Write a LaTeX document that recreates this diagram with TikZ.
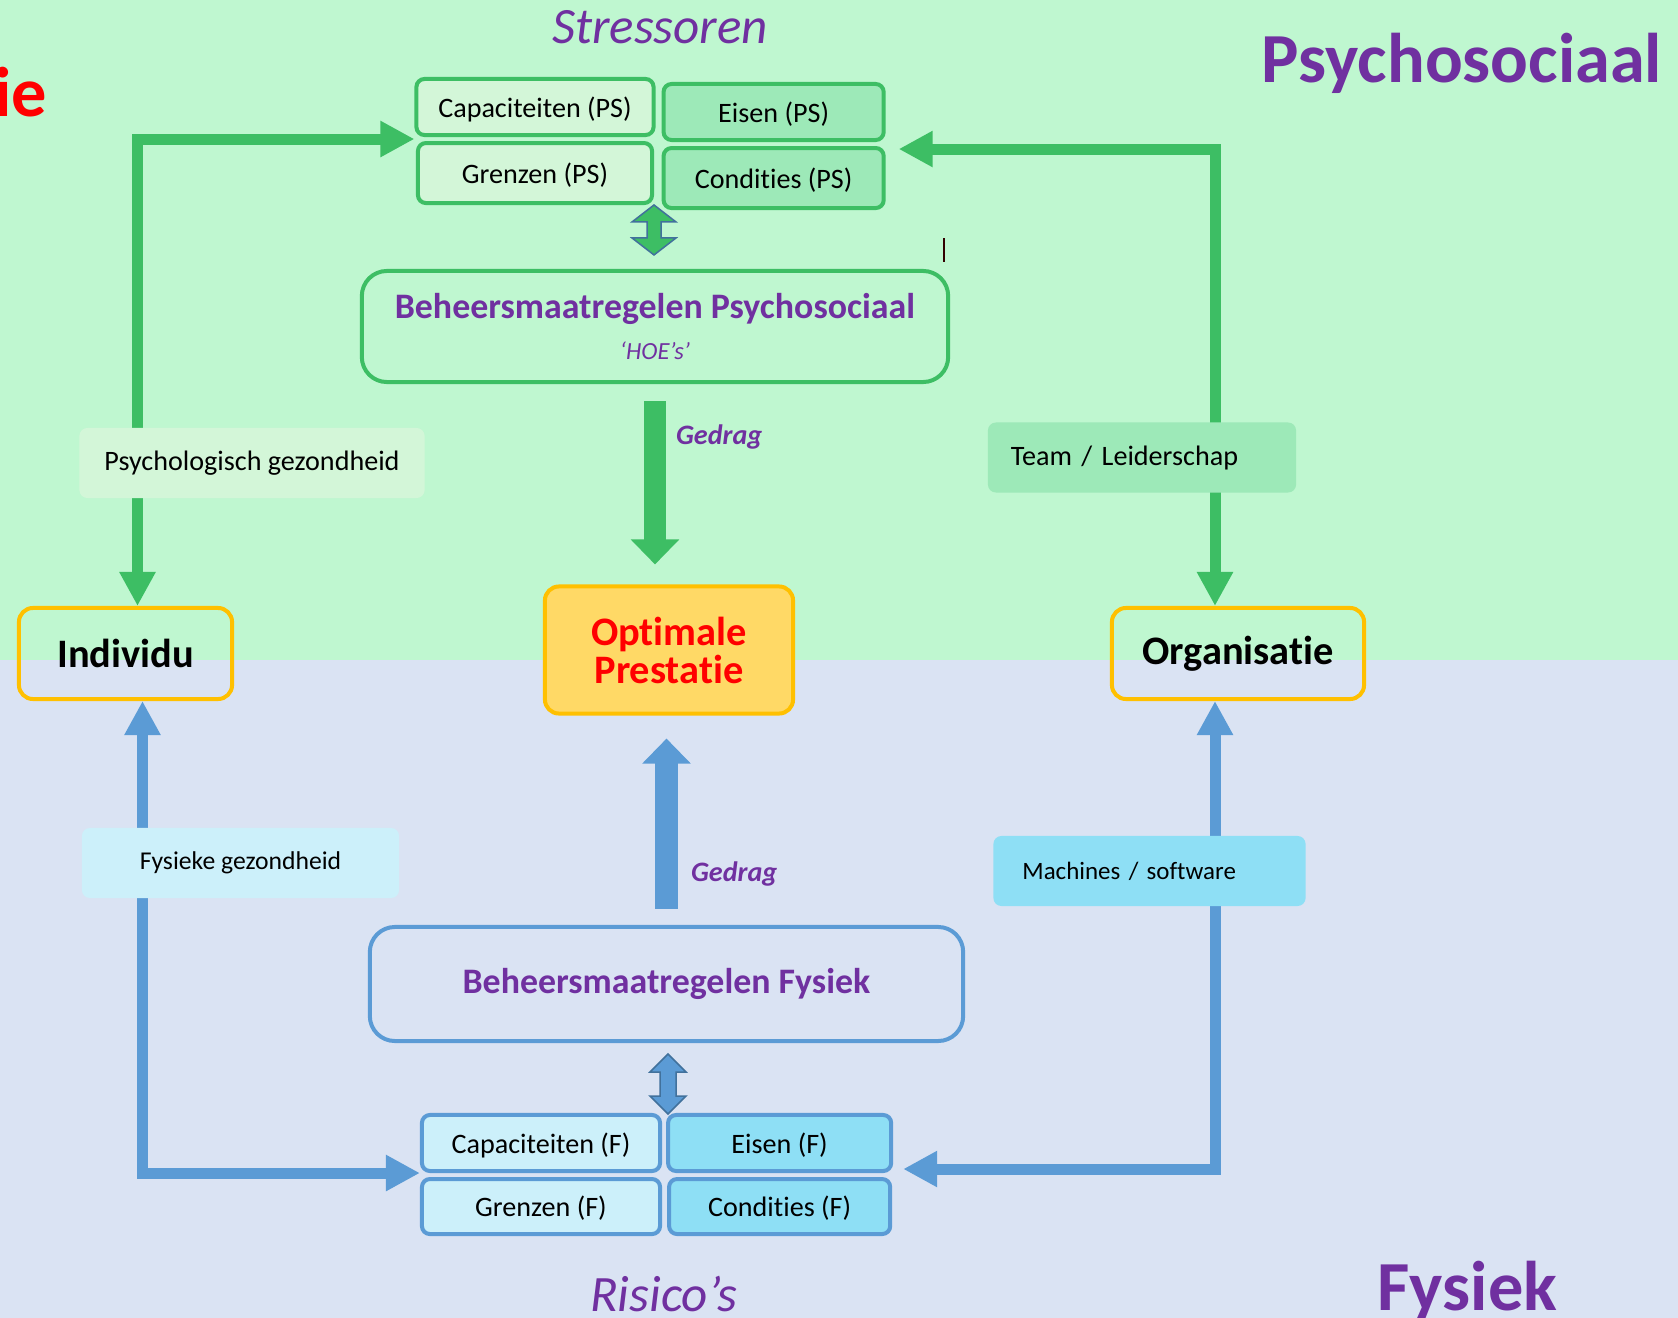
\documentclass[tikz,border=0pt]{standalone}
\usepackage{fontspec}
\setmainfont{Carlito}[Ligatures={TeX,NoCommon}]
\usetikzlibrary{positioning,calc,arrows.meta}

\definecolor{topbg}{HTML}{BFF7D0}
\definecolor{botbg}{HTML}{DAE3F3}
\definecolor{gline}{HTML}{3DBE64}
\definecolor{glight}{HTML}{D3F6D8}
\definecolor{gmid}{HTML}{9DE9B8}
\definecolor{bline}{HTML}{5B9BD5}
\definecolor{blight}{HTML}{CCF0FA}
\definecolor{bmid}{HTML}{8EDFF5}
\definecolor{bdark}{HTML}{41719C}
\definecolor{paars}{HTML}{7030A0}
\definecolor{oranje}{HTML}{FFC000}
\definecolor{geel}{HTML}{FFD966}

\begin{document}
\begin{tikzpicture}[x=0.01cm, y=-0.01cm,
    cell/.style = {draw, line width=0.04cm, rounded corners=0.08cm, inner sep=0, text height=0.27cm, text depth=0.07cm, font=\fontsize{8}{9.6}\selectfont},
    pscell/.style = {cell, draw=gline},
    fcell/.style = {cell, draw=bline},
    measure/.style = {draw, line width=0.04cm, rounded corners=0.25cm, text=paars, align=center, font=\bfseries\fontsize{10.2}{11.6}\selectfont},
    actor/.style = {draw=oranje, line width=0.04cm, rounded corners=0.14cm, minimum height=0.91cm, inner sep=0, font=\bfseries\fontsize{11.5}{10.8}\selectfont},
    tag/.style = {rounded corners=0.08cm, minimum height=0.7cm, inner sep=0, font=\fontsize{8}{9.6}\selectfont},
    gconn/.style = {draw=gline, line width=0.11cm, >={Triangle[length=0.34cm,width=0.34cm]}, <->},
    bconn/.style = {gconn, draw=bline},
    gedrag/.style = {line width=0.22cm, >={Triangle[length=0.25cm,width=0.47cm]}, ->},
    gdlabel/.style = {text=paars, anchor=west, inner sep=0, font=\bfseries\itshape\fontsize{8}{10}\selectfont},
    dbl/.style = {line width=0.015cm, draw=bdark},
    heading/.style = {text=paars, inner sep=0, font=\bfseries\fontsize{20}{22}\selectfont},
    subheading/.style = {text=paars, inner sep=0, font=\itshape\fontsize{14.5}{16}\selectfont}
  ]

  % achtergrond
  \fill[topbg] (0,0) rectangle (1678,660);
  \fill[botbg] (0,660) rectangle (1678,1318);
  \useasboundingbox (0,0) rectangle (1678,1318);

  % stressoren (psychosociaal)
  \node[pscell, fill=glight, minimum width=2.37cm, minimum height=0.56cm] (pscap) at (535,107) {Capaciteiten (PS)};
  \node[pscell, fill=glight, minimum width=2.34cm, minimum height=0.6cm, below=0.04cm of pscap] (psgr) {Grenzen (PS)};
  \node[pscell, fill=gmid, minimum width=2.2cm, minimum height=0.56cm, right=0.06cm of pscap, yshift=-0.05cm] (pseis) {Eisen (PS)};
  \node[pscell, fill=gmid, minimum width=2.2cm, minimum height=0.6cm, below=0.04cm of pseis] (pscon) {Condities (PS)};

  \node[measure, draw=gline, minimum width=5.86cm, minimum height=1.11cm] (bmps) at (655,326.5)
    {Beheersmaatregelen Psychosociaal\\{\mdseries\itshape\fontsize{7}{8}\selectfont `HOE's'}};

  % midden
  \node[actor, fill=geel, text=red, align=center, minimum width=2.48cm, minimum height=1.27cm] (opt) at (669,650) {Optimale\\Prestatie};
  \node[actor, minimum width=2.13cm] (indiv) at (125.5,653.5) {Individu};
  \node[actor, minimum width=2.52cm] (org) at (1238,653.5) {Organisatie};

  % risico's (fysiek)
  \node[measure, draw=bline, minimum width=5.93cm, minimum height=1.14cm] (bmf) at (666.5,984) {Beheersmaatregelen Fysiek};

  \node[fcell, fill=blight, minimum width=2.38cm, minimum height=0.56cm] (fcap) at (541,1143) {Capaciteiten (F)};
  \node[fcell, fill=blight, minimum width=2.38cm, minimum height=0.55cm, below=0.04cm of fcap] (fgr) {Grenzen (F)};
  \node[fcell, fill=bmid, minimum width=2.23cm, minimum height=0.56cm, right=0.04cm of fcap] (feis) {Eisen (F)};
  \node[fcell, fill=bmid, minimum width=2.21cm, minimum height=0.55cm, below=0.04cm of feis] (fcon) {Condities (F)};

  % verbindingen
  \draw[gconn] ($(indiv.north)+(12,0)$) |- ($(pscap.south west)+(0,2)$);
  \draw[gconn] ($(org.north)+(-23,0)$) |- ($(pscon.north east)+(13,3)$);
  \draw[bconn] ($(indiv.south)+(17,0)$) |- (fcap.south west);
  \draw[bconn] ($(org.south)+(-23,0)$) |- ($(feis.south east)+(10,-4)$);

  \draw[gedrag, draw=gline, shorten <=0.17cm, shorten >=0.2cm] (bmps.south) -- (bmps.south |- opt.north)
    node[gdlabel, pos=0.265, xshift=0.1cm] {Gedrag};
  \draw[gedrag, draw=bline, shorten <=0.16cm, shorten >=0.23cm] (bmf.north) -- (bmf.north |- opt.south)
    node[gdlabel, pos=0.245, xshift=0.135cm] {Gedrag};

  % dubbele pijlen
  \filldraw[dbl, fill=gline] ($(bmps.north)+(-1,-14)$) -- ++(-22,-17) -- ++(15,0) -- ++(0,-16) -- ++(-15,0)
    -- ++(22,-17) -- ++(22,17) -- ++(-15,0) -- ++(0,16) -- ++(15,0) -- cycle;
  \filldraw[dbl, fill=bline] ($(bmf.south)+(1.5,71)$) -- ++(-18,-18) -- ++(10,0) -- ++(0,-24) -- ++(-10,0)
    -- ++(18,-18) -- ++(18,18) -- ++(-10,0) -- ++(0,24) -- ++(10,0) -- cycle;

  % labels op de lijnen
  \node[tag, fill=glight, minimum width=3.45cm] (psgez) at (252,463) {Psychologisch gezondheid};
  \node[tag, fill=gmid, minimum width=3.08cm, text width=2.62cm, align=left] (team) at (1142,457.5) {Team / Leiderschap};
  \node[tag, fill=blight, minimum width=3.17cm, font=\fontsize{7.3}{8.6}\selectfont] (fysgez) at (240.5,863) {Fysieke gezondheid};
  \node[tag, fill=bmid, minimum width=3.12cm, text width=2.54cm, align=left, font=\fontsize{7.1}{8.4}\selectfont] (mach) at (1149.5,871) {Machines / software};

  % titels
  \node[heading, anchor=base west] (psych) at (1261,82) {Psychosociaal};
  \node[heading, anchor=base west] (fys) at (1377,1310) {Fysiek};
  \node[heading, text=red, anchor=base east] (cut) at (48,116) {ie};
  \node[subheading, anchor=base] (stress) at (660,43) {Stressoren};
  \node[subheading, anchor=base] (risico) at (664,1311) {Risico's};

  \draw[line width=0.015cm, color=black!80!red] (944,238) -- (944,262);

\end{tikzpicture}
\end{document}
